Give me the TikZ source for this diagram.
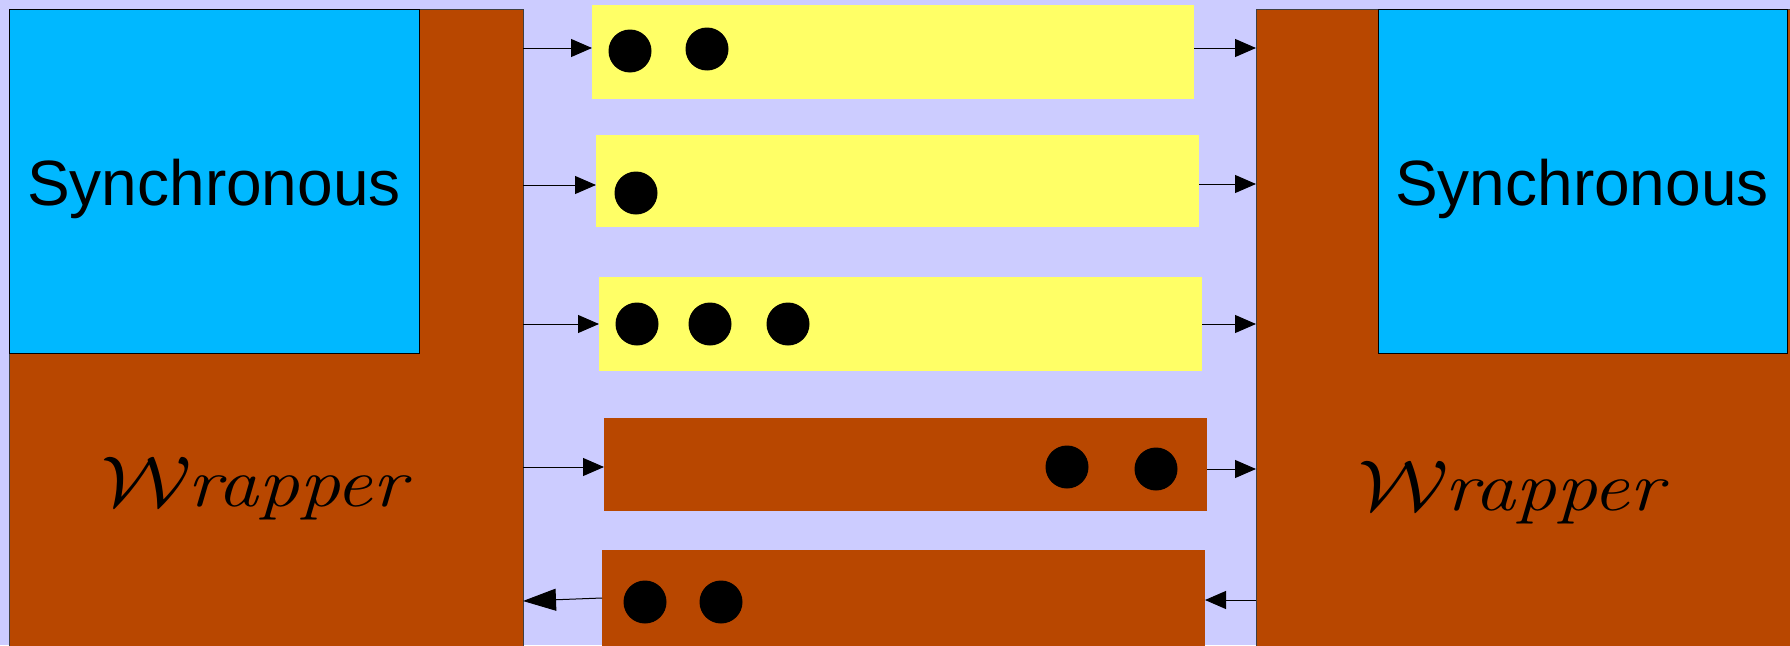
\documentclass[tikz,border=0pt]{standalone}
\usepackage{fontspec}
\usepackage{graphicx}
\usetikzlibrary{arrows.meta}
\newfontfamily\sansA{Liberation Sans}
\newcommand{\bigW}{{\fontsize{10}{12}\selectfont\scalebox{7.2}{$\mathcal{W}$}}}
\newcommand{\wraplabel}{\scalebox{1.17}[1]{\bigW\kern-4pt\textit{rapper}}}
\definecolor{bgc}{RGB}{204,204,255}
\definecolor{brownc}{RGB}{184,71,0}
\definecolor{bluec}{RGB}{0,184,255}
\definecolor{yellowc}{RGB}{255,255,102}
\tikzset{
  box/.style={rectangle, anchor=north west, inner sep=0pt, outer sep=0pt},
  wrapbox/.style={box, fill=brownc, draw=black!75, line width=1pt},
  syncbox/.style={box, fill=bluec, draw=black, line width=1pt},
  chan/.style={box, draw=none},
  dot/.style={circle, fill=black, inner sep=0pt, minimum size=43pt},
  synctext/.style={anchor=base, inner sep=0pt, font=\sansA\fontsize{64}{70}\selectfont},
  wraptext/.style={anchor=base, inner sep=0pt, font=\fontsize{70}{76}\selectfont},
  arr/.style={-{Triangle[length=21pt,width=18pt]}, line width=1pt, black},
  bigarr/.style={-{Triangle[length=33pt,width=22pt]}, line width=1pt, black}
}
\begin{document}
\begin{tikzpicture}[x=1pt,y=-1pt]
\useasboundingbox[fill=bgc] (0,0) rectangle (1790,645);
% left side
\node[wrapbox, minimum width=514pt, minimum height=660pt] (LW) at (9,9) {};
\node[syncbox, minimum width=410pt, minimum height=344pt] (LS) at (9,9) {};
\node[synctext] (LSt) at (214,205) {Synchronous};
\node[wraptext] (LWt) at (257,506) {\wraplabel};
% right side
\node[wrapbox, minimum width=540pt, minimum height=660pt] (RW) at (1256,9) {};
\node[syncbox, minimum width=409pt, minimum height=344pt] (RS) at (1378,9) {};
\node[synctext] (RSt) at (1582,205) {Synchronous};
\node[wraptext] (RWt) at (1514,510) {\wraplabel};
% channels
\node[chan, fill=yellowc, minimum width=602pt, minimum height=94pt] (C1) at (592,5) {};
\node[chan, fill=yellowc, minimum width=603pt, minimum height=92pt] (C2) at (596,135) {};
\node[chan, fill=yellowc, minimum width=603pt, minimum height=94pt] (C3) at (599,277) {};
\node[chan, fill=brownc, minimum width=603pt, minimum height=93pt] (C4) at (604,418) {};
\node[chan, fill=brownc, minimum width=603pt, minimum height=100pt] (C5) at (602,550) {};
% tokens
\node[dot] (d11) at (630,51) {};
\node[dot] (d12) at (707,49) {};
\node[dot] (d21) at (636,193) {};
\node[dot] (d31) at (637,324) {};
\node[dot] (d32) at (710,324) {};
\node[dot] (d33) at (788,324) {};
\node[dot] (d41) at (1067,467) {};
\node[dot] (d42) at (1156,469) {};
\node[dot] (d51) at (645,602) {};
\node[dot] (d52) at (721,602) {};
% connectors left -> channels
\draw[arr] (LW.east |- 0,48) -- (C1.west |- 0,48);
\draw[arr] (LW.east |- 0,185) -- (C2.west |- 0,185);
\draw[arr] (LW.east |- 0,324) -- (C3.west |- 0,324);
\draw[arr] (LW.east |- 0,467) -- (C4.west |- 0,467);
% channels -> right
\draw[arr] (C1.east |- 0,48) -- (RW.west |- 0,48);
\draw[arr] (C2.east |- 0,184) -- (RW.west |- 0,184);
\draw[arr] (C3.east |- 0,324) -- (RW.west |- 0,324);
\draw[arr] (C4.east |- 0,469) -- (RW.west |- 0,469);
% backward channel
\draw[arr] (RW.west |- 0,600) -- (C5.east |- 0,600);
\draw[bigarr] (C5.west |- 0,598) -- (LW.east |- 0,601);
\end{tikzpicture}
\end{document}
